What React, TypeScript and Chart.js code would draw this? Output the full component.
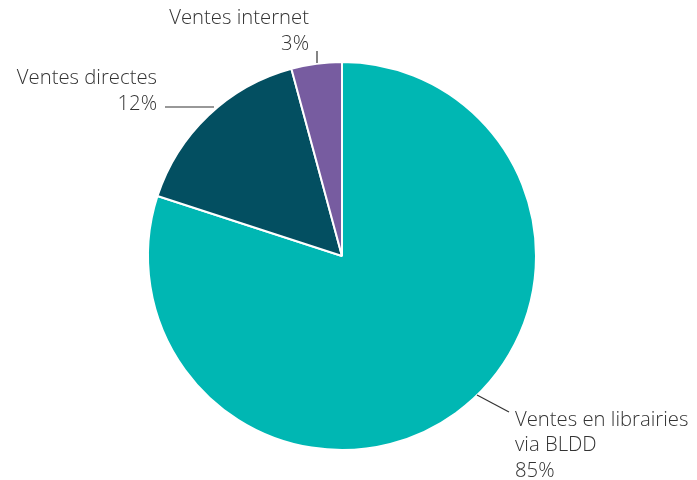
import React, { useEffect, useRef } from "react";
import { Chart, registerables } from "chart.js";

Chart.register(...registerables);

const categories = ["Ventes en librairies via BLDD", "Ventes directes", "Ventes internet"];
const sliceValues = [80, 15.8, 4.2];
const percentLabels = ["85%", "12%", "3%"];
const labelLines = [["Ventes en librairies", "via BLDD", percentLabels[0]], ["Ventes directes", percentLabels[1]], ["Ventes internet", percentLabels[2]]];
const colors = ["#00B7B3", "#034F61", "#775CA0"];

const FONT = "300 20.3px 'Open Sans', Lato, sans-serif";

const labelPlugin = {
  id: "leaderLabels",
  afterDraw(chart: any) {
    const ctx = chart.ctx;
    const meta = chart.getDatasetMeta(0);
    const arc0 = meta.data[0];
    const cx = arc0.x;
    const cy = arc0.y;
    ctx.save();
    ctx.strokeStyle = "#333333";
    ctx.lineWidth = 1.2;
    ctx.fillStyle = "#333333";
    ctx.font = FONT;
    ctx.textBaseline = "middle";
    // teal
    ctx.beginPath();
    ctx.moveTo(cx + 135, cy + 139);
    ctx.lineTo(cx + 167, cy + 156);
    ctx.stroke();
    ctx.textAlign = "left";
    const t = labelLines[0];
    t.forEach((s, i) => ctx.fillText(s, cx + 173, cy + 164 + i * 25.5));
    // dark
    ctx.beginPath();
    ctx.moveTo(cx - 177, cy - 149);
    ctx.lineTo(cx - 128, cy - 149);
    ctx.stroke();
    ctx.textAlign = "right";
    const d = labelLines[1];
    ctx.fillText(d[0], cx - 185, cy - 178);
    ctx.fillText(d[1], cx - 185, cy - 152);
    // purple
    ctx.beginPath();
    ctx.moveTo(cx - 25, cy - 205);
    ctx.lineTo(cx - 25, cy - 193);
    ctx.stroke();
    const p = labelLines[2];
    ctx.fillText(p[0], cx - 33, cy - 238);
    ctx.fillText(p[1], cx - 33, cy - 212);
    ctx.restore();
  },
};

export default function App() {
  const ref = useRef<HTMLCanvasElement>(null);
  useEffect(() => {
    const chart = new Chart(ref.current!, {
      type: "pie",
      data: {
        labels: categories,
        datasets: [
          {
            data: sliceValues,
            backgroundColor: colors,
            borderColor: "#ffffff",
            borderWidth: 2,
          },
        ],
      },
      options: {
        animation: false,
        responsive: false,
        maintainAspectRatio: false,
        layout: { padding: { top: 61, bottom: 29, left: 147, right: 160 } },
        plugins: {
          legend: { display: false },
          tooltip: { enabled: false },
        },
      },
      plugins: [labelPlugin],
    });
    return () => chart.destroy();
  }, []);
  return (
    <div style={{ position: "fixed", left: 0, top: 0, width: 697, height: 480, background: "#fff" }}>
      <canvas ref={ref} width={697} height={480} style={{ width: 697, height: 480 }} />
    </div>
  );
}
